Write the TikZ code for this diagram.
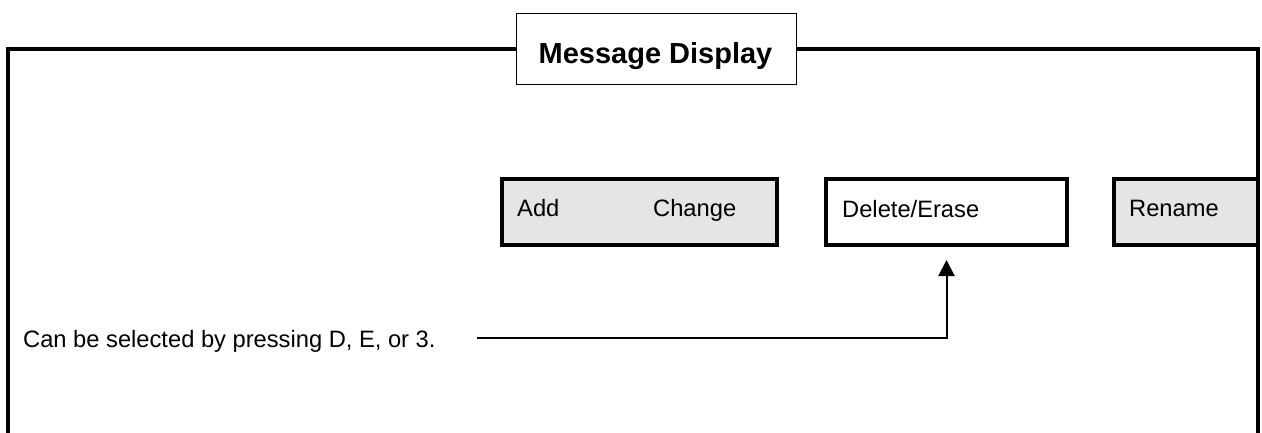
\documentclass[tikz,border=0pt]{standalone}
\usepackage{fontspec}
\setmainfont{Liberation Sans}
\usetikzlibrary{arrows.meta}
\definecolor{btnfill}{HTML}{E5E5E5}
\tikzset{
  frameline/.style={line width=4pt, line join=miter, line cap=butt},
  btnbox/.style={draw, line width=4pt, minimum height=66pt, inner sep=0pt, anchor=center},
  titlebox/.style={draw, fill=white, line width=1.3pt, minimum width=279.6pt, minimum height=70.6pt, inner sep=0pt, anchor=center},
  btntext/.style={inner sep=0pt, anchor=base west, font=\fontsize{23.7}{28}\selectfont},
  titletext/.style={inner sep=0pt, anchor=base, font=\bfseries\fontsize{29}{34}\selectfont},
  conn/.style={line width=2pt, -{Triangle[length=16pt,width=16pt]}}
}
\begin{document}
\begin{tikzpicture}[x=1pt,y=-1pt]
\useasboundingbox[fill=white] (0,0) rectangle (1262,433);
% buttons
\node[btnbox, fill=btnfill, minimum width=275pt] (add) at (639.5,212) {};
\node[btnbox, fill=white, minimum width=241pt] (del) at (946.5,212) {};
\node[btnbox, fill=btnfill, minimum width=144pt] (ren) at (1186,212) {};
\node[btntext] (addt) at (517,217) {Add};
\node[btntext] (chgt) at (653,217) {Change};
\node[btntext] (delt) at (842,217.5) {Delete/Erase};
\node[btntext] (rent) at (1129,217) {Rename};
% title box
\node[titlebox] (title) at (656.5,49) {};
\node[titletext] (titlet) at (655.5,63.3) {Message Display};
% outer frame
\coordinate (tl) at (8,49);
\coordinate (tr) at (1258,49);
\coordinate (bl) at (8,433);
\coordinate (br) at (1258,433);
\draw[frameline] (bl) -- (tl) -- (title.west);
\draw[frameline] (title.east) -- (tr) -- (br);
% note and connector
\node[btntext] (note) at (23,347) {Can be selected by pressing D, E, or 3.};
\coordinate (start) at (477,338);
\draw[conn] (start) -| ([yshift=-13pt]del.south);
\end{tikzpicture}
\end{document}
